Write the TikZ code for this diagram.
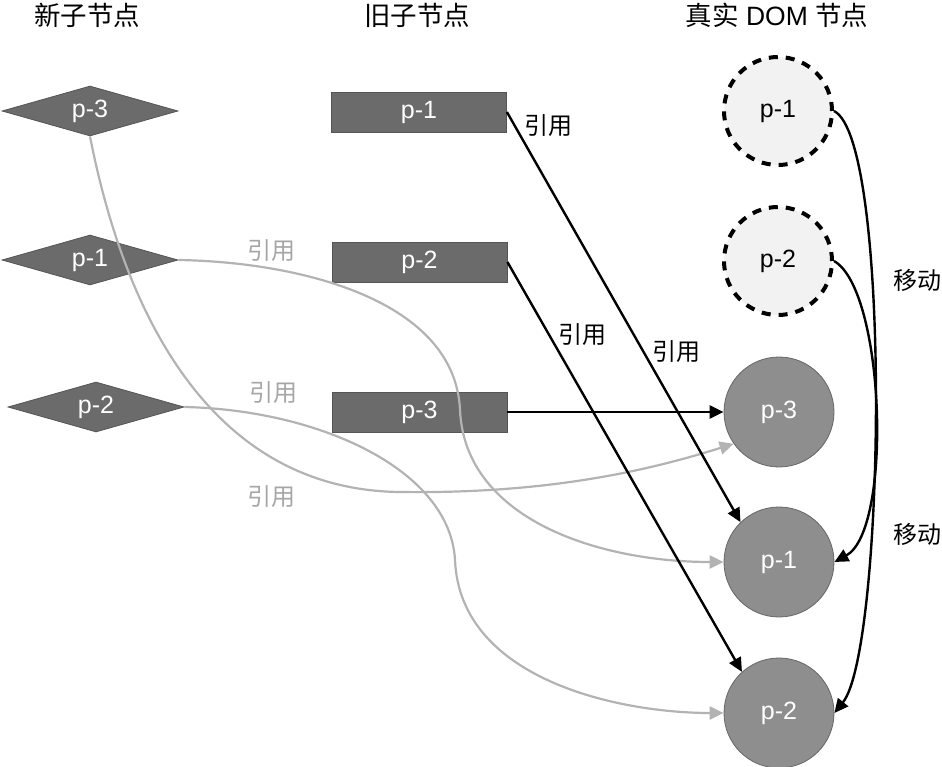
\documentclass[tikz,border=0pt]{standalone}
\usepackage{fontspec}
\setmainfont{Liberation Sans}
\newfontfamily\cjk{Noto Sans CJK SC}
\usetikzlibrary{shapes.geometric,arrows.meta}
\definecolor{boxfill}{HTML}{6B6B6B}
\definecolor{boxline}{HTML}{555555}
\definecolor{domfill}{HTML}{8E8E8E}
\definecolor{domline}{HTML}{666666}
\definecolor{oldfill}{HTML}{F2F2F2}
\definecolor{refgray}{HTML}{B3B3B3}
\definecolor{labgray}{HTML}{A6A6A6}
\tikzset{
  title/.style={font=\fontsize{26.5}{31}\selectfont, inner sep=0pt},
  newnode/.style={diamond, fill=boxfill, draw=boxline, line width=0.8pt, minimum width=176pt, minimum height=50pt, aspect=3.5, inner sep=0pt, text=white, font=\fontsize{25}{29}\selectfont},
  oldnode/.style={rectangle, fill=boxfill, draw=boxline, line width=0.8pt, minimum width=175pt, minimum height=40pt, inner sep=0pt, text=white, font=\fontsize{25}{29}\selectfont},
  domnode/.style={circle, fill=domfill, draw=domline, line width=0.8pt, minimum size=110pt, inner sep=0pt, text=white, font=\fontsize{25}{29}\selectfont},
  olddom/.style={circle, fill=oldfill, draw=black, line width=4pt, dash pattern=on 9pt off 8pt, minimum size=108pt, inner sep=0pt, text=black, font=\fontsize{25}{29}\selectfont},
  blackarrow/.style={draw=black, line width=2.4pt, -{Triangle[length=14pt,width=13pt]}},
  grayarrow/.style={draw=refgray, line width=2.2pt, -{Triangle[length=14pt,width=13pt]}},
  blacklab/.style={font=\cjk\fontsize{24}{28}\selectfont, text=black, inner sep=0pt},
  graylab/.style={font=\cjk\fontsize{24}{28}\selectfont, text=labgray, inner sep=0pt},
}
\begin{document}
\begin{tikzpicture}[x=1pt, y=-1pt]
\useasboundingbox (0,0) rectangle (942,767);
% titles
\node[title] (t1) at (87,15) {\cjk 新子节点};
\node[title] (t2) at (417,15) {\cjk 旧子节点};
\node[title] (t3) at (777,15) {{\cjk 真实} DOM {\cjk 节点}};
% new children
\node[newnode] (n3) at (90,111) {p-3};
\node[newnode] (n1) at (90,260) {p-1};
\node[newnode] (n2) at (96,407) {p-2};
% old children
\node[oldnode] (o1) at (419,112) {p-1};
\node[oldnode] (o2) at (419.5,262) {p-2};
\node[oldnode] (o3) at (419.5,412) {p-3};
% real DOM
\node[olddom] (d1) at (778,111) {p-1};
\node[olddom] (d2) at (778,261) {p-2};
\node[domnode] (r3) at (779,412) {p-3};
\node[domnode] (r1) at (779,562) {p-1};
\node[domnode] (r2) at (779,713) {p-2};
% gray references from new children
\draw[grayarrow] (n3.south) .. controls (128,330) and (220,490) .. (400,492) .. controls (550,494) and (650,470) .. (r3.215);
\draw[grayarrow] (n1.east) .. controls (300,262) and (455,300) .. (460,410) .. controls (465,520) and (600,562) .. (r1.west);
\draw[grayarrow] (n2.east) .. controls (320,410) and (450,470) .. (455,560) .. controls (460,680) and (620,713) .. (r2.west);
% black references from old children
\draw[blackarrow] (o1.east) -- (r1.134);
\draw[blackarrow] (o2.east) -- (r2.132);
\draw[blackarrow] (o3.east) -- (r3);
% moves
\draw[blackarrow] (d1.east) .. controls (892,140) and (885,650) .. (r2.east);
\draw[blackarrow] (d2.east) .. controls (885,290) and (893,530) .. (r1.east);
% labels
\node[graylab] (g1) at (271,251) {引用};
\node[graylab] (g2) at (273,393) {引用};
\node[graylab] (g3) at (271,497) {引用};
\node[blacklab] (b1) at (548,126) {引用};
\node[blacklab] (b2) at (582,335) {引用};
\node[blacklab] (b3) at (676,352) {引用};
\node[blacklab] (m1) at (917,280) {移动};
\node[blacklab] (m2) at (917,534) {移动};
\end{tikzpicture}
\end{document}
